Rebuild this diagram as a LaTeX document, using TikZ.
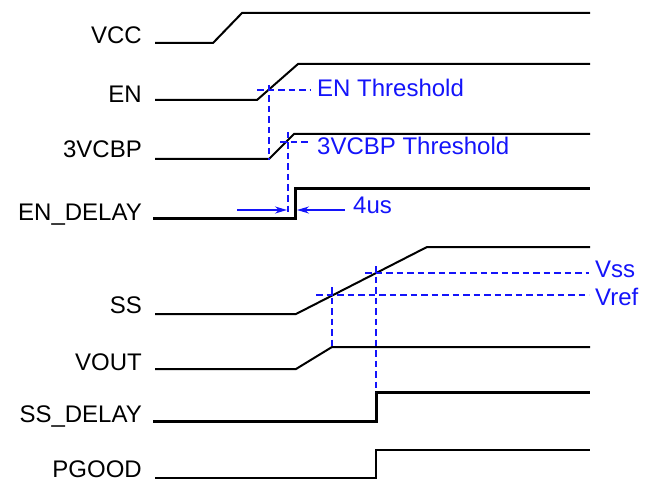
\documentclass[tikz,border=0pt]{standalone}
\usepackage{fontspec}
\setmainfont{Liberation Sans}
\usetikzlibrary{arrows.meta}
\definecolor{tblue}{RGB}{20,20,250}
\begin{document}
\begin{tikzpicture}[x=1pt,y=-1pt,
  sig/.style={line width=2pt,black,line join=miter},
  sigthick/.style={line width=3pt,black,line join=miter},
  lbl/.style={anchor=base east,inner sep=0pt,font=\fontsize{24}{28}\selectfont},
  thr/.style={dash pattern=on 6.5pt off 4pt,line width=1.6pt,tblue},
  blbl/.style={anchor=base west,inner sep=0pt,text=tblue,font=\fontsize{24}{28}\selectfont},
  marr/.style={line width=1.6pt,tblue,-{Stealth[length=12pt,width=7pt]}}]
\useasboundingbox (0,0) rectangle (650,481);
% labels
\node[lbl] (lvcc) at (142,44) {VCC};
\node[lbl] (len) at (142,103) {EN};
\node[lbl] (l3v) at (142,158) {3VCBP};
\node[lbl] (lend) at (142,220) {EN\_DELAY};
\node[lbl] (lss) at (142,313) {SS};
\node[lbl] (lvout) at (142,370) {VOUT};
\node[lbl] (lssd) at (142,422) {SS\_DELAY};
\node[lbl] (lpg) at (142,477) {PGOOD};
% signals
\draw[sig] (155,43) -- (213,43) -- (242,13) -- (590,13);
\draw[sig] (155,100) -- (257,100) -- (298,64) -- (590,64);
\draw[sig] (155,159) -- (269,159) -- (294,134) -- (590,134);
\draw[sigthick] (153,218) -- (295,218) -- (295,189) -- (590,189);
\draw[sig] (155,314) -- (296,314) -- (427,247) -- (590,247);
\draw[sig] (155,369) -- (296,369) -- (332,347) -- (590,347);
\draw[sigthick] (153,421) -- (376,421) -- (376,392) -- (590,392);
\draw[sig] (155,478) -- (376,478) -- (376,450) -- (590,450);
% thresholds
\draw[thr] (257,90) -- (310,90);
\draw[thr] (269,85) -- (269,160);
\node[blbl] (enth) at (317,97) {EN Threshold};
\draw[thr] (280,142) -- (310,142);
\draw[thr] (288,132) -- (288,214);
\node[blbl] (vth) at (317,155) {3VCBP Threshold};
% delay arrows
\coordinate (a1) at (237,210);
\coordinate (a1e) at (287,210);
\coordinate (a2) at (345,210);
\coordinate (a2e) at (297,210);
\draw[marr] (a1) -- (a1e);
\draw[marr] (a2) -- (a2e);
\node[blbl] (fus) at (353,213) {4us};
% SS thresholds
\draw[thr] (365,273) -- (589,273);
\draw[thr] (316,295) -- (589,295);
\node[blbl] (vss) at (595,277) {Vss};
\node[blbl] (vref) at (595,305) {Vref};
\draw[thr] (332,287) -- (332,347);
\draw[thr] (376,266) -- (376,392);
\end{tikzpicture}
\end{document}
